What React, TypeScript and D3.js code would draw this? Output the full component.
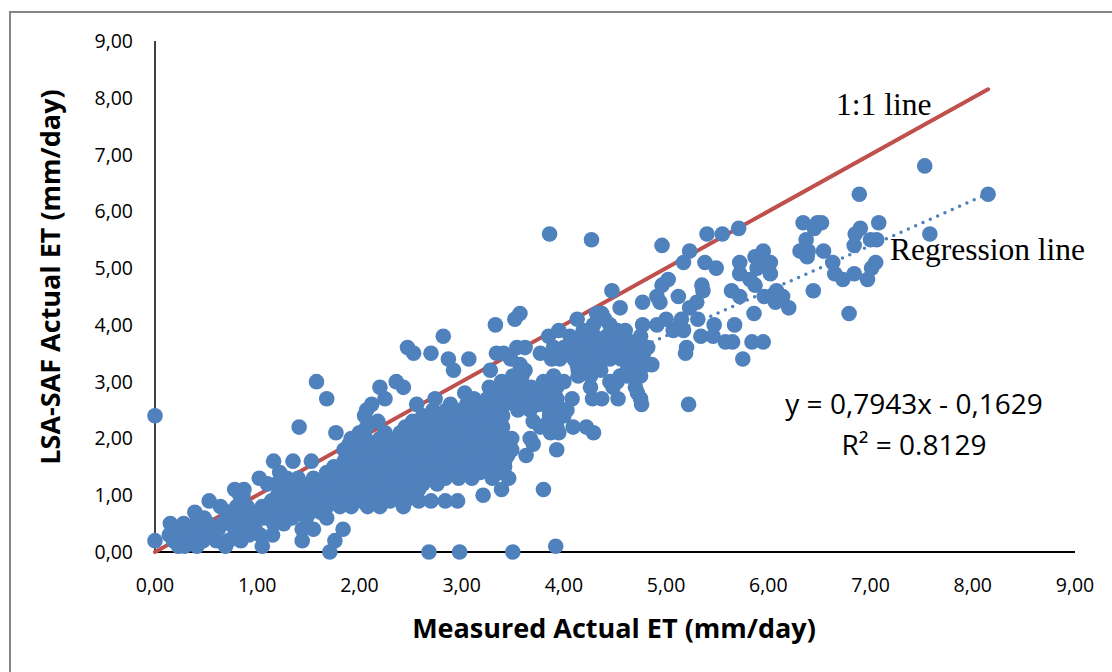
import React from "react";
import * as d3 from "d3";

const width = 1112;
const height = 672;

// LSA-SAF values are reported to 0.1 mm/day, so points are kept per level
const lsaLevels = [
  0, 0.1, 0.2, 0.3, 0.4, 0.5, 0.6, 0.7, 0.8, 0.9, 1.0, 1.1, 1.2, 1.3, 1.4, 1.5, 1.6, 1.7, 1.8, 1.9, 2.0,
  2.1, 2.2, 2.3, 2.4, 2.5, 2.6, 2.7, 2.8, 2.9, 3.0, 3.1, 3.2, 3.3, 3.4, 3.5, 3.6, 3.7, 3.8, 3.9, 4.0,
  4.1, 4.2, 4.3, 4.4, 4.5, 4.6, 4.7, 4.8, 4.9, 5.0, 5.1, 5.2, 5.3, 5.4, 5.5, 5.6, 5.7, 5.8, 6.3, 6.8,
];

const measuredAtLevel = [
  [1.71, 2.68, 2.98, 3.5],
  [0.23, 0.29, 0.41, 0.69, 1.05, 3.92],
  [0, 0.18, 0.27, 0.36, 0.47, 0.6, 0.72, 0.84, 1.44, 1.76],
  [0.14, 0.24, 0.34, 0.5, 0.58, 0.78, 0.92, 1.03, 1.15],
  [0.22, 0.31, 0.43, 0.62, 0.82, 0.98, 1.44, 1.55, 1.84],
  [0.15, 0.28, 0.4, 0.52, 0.66, 0.75, 0.88, 0.95, 1.16, 1.26],
  [0.48, 0.76, 0.93, 1.06, 1.2, 1.34, 1.48, 1.68],
  [0.39, 0.7, 0.72, 0.86, 1.0, 1.14, 1.27, 1.4, 1.52, 1.62],
  [0.64, 0.8, 0.9, 1.05, 1.17, 1.3, 1.42, 1.55, 1.68, 1.81, 1.92, 2.08, 2.2, 2.43],
  [0.53, 0.86, 1.14, 1.25, 1.38, 1.5, 1.62, 1.75, 1.9, 2.02, 2.15, 2.23, 2.3, 2.45, 2.58, 2.7, 2.84, 2.96],
  [0.83, 0.86, 1.2, 1.32, 1.45, 1.6, 1.72, 1.85, 2.0, 2.12, 2.25, 2.38, 2.53, 3.21],
  [0.78, 0.87, 1.25, 1.38, 1.52, 1.66, 1.8, 1.92, 2.05, 2.18, 2.32, 2.45, 2.58, 3.39, 3.8],
  [1.1, 1.19, 1.3, 1.43, 1.58, 1.73, 1.86, 1.98, 2.1, 2.24, 2.38, 2.5, 2.62, 2.76],
  [1.02, 1.29, 1.4, 1.55, 1.7, 1.82, 1.94, 2.06, 2.2, 2.33, 2.46, 2.58, 2.7, 2.84, 2.97, 3.1, 3.3, 3.46],
  [1.22, 1.68, 1.8, 1.93, 2.05, 2.18, 2.3, 2.42, 2.55, 2.68, 2.8, 2.93, 3.05, 3.18, 3.3, 3.38],
  [1.75, 1.88, 2.0, 2.12, 2.25, 2.37, 2.5, 2.62, 2.75, 2.88, 3.0, 3.12, 3.25, 3.38, 3.42],
  [1.16, 1.35, 1.53, 1.85, 1.97, 2.1, 2.22, 2.35, 2.48, 2.6, 2.72, 2.85, 2.98, 3.1, 3.23, 3.35, 3.42],
  [1.88, 2.0, 2.14, 2.27, 2.4, 2.53, 2.66, 2.78, 2.9, 3.03, 3.16, 3.28, 3.4, 3.45, 3.63],
  [1.85, 1.95, 2.08, 2.2, 2.34, 2.46, 2.58, 2.7, 2.83, 2.95, 3.08, 3.2, 3.32, 3.49, 3.93],
  [1.9, 2.02, 2.16, 2.3, 2.42, 2.55, 2.68, 2.8, 2.92, 3.05, 3.18, 3.3, 3.42, 3.7],
  [1.92, 2.06, 2.2, 2.36, 2.5, 2.62, 2.74, 2.88, 3.0, 3.12, 3.26, 3.38, 3.49, 3.67],
  [1.77, 2.0, 2.25, 2.4, 2.55, 2.68, 2.8, 2.94, 3.06, 3.2, 3.33, 3.87, 3.95, 4.29],
  [1.41, 2.07, 2.45, 2.6, 2.72, 2.86, 3.0, 3.14, 3.27, 3.4, 3.77, 3.93, 4.09, 4.22],
  [2.18, 2.52, 2.65, 2.78, 2.9, 3.03, 3.16, 3.3, 3.7, 3.85, 3.93],
  [0, 2.05, 2.62, 2.8, 2.95, 3.08, 3.2, 3.34, 3.4, 3.86, 4.0],
  [2.07, 2.72, 2.85, 3.0, 3.13, 3.27, 3.38, 3.55, 3.67, 3.86, 4.0, 4.03],
  [2.12, 2.56, 2.89, 3.05, 3.2, 3.32, 3.42, 3.62, 3.75, 3.93, 4.76, 5.22],
  [1.68, 2.25, 2.74, 3.12, 3.25, 3.37, 3.5, 3.6, 3.68, 3.85, 3.93, 4.08, 4.28, 4.37, 4.53, 4.75],
  [3.03, 3.3, 3.45, 3.57, 3.75, 3.85, 4.72],
  [2.2, 2.43, 3.27, 3.4, 3.55, 3.6, 3.68, 3.77, 3.93, 4.26, 4.48, 4.7],
  [1.58, 2.36, 3.39, 3.52, 3.8, 4.0, 4.45, 4.52],
  [3.5, 3.59, 3.9, 4.14, 4.26, 4.55, 4.62, 4.75],
  [2.92, 3.28, 3.62, 4.14, 4.26, 4.36, 4.62, 4.7],
  [3.57, 4.13, 4.33, 4.68, 4.75, 4.81, 4.86],
  [2.87, 3.07, 3.48, 3.88, 3.96, 4.1, 4.2, 4.32, 4.45, 4.56, 4.7, 5.75],
  [2.53, 2.7, 3.34, 3.41, 3.77, 3.88, 4.05, 4.13, 4.26, 4.39, 4.52, 4.65, 4.78, 5.19],
  [2.47, 3.54, 3.62, 3.9, 4.0, 4.12, 4.2, 4.3, 4.45, 4.58, 4.7, 4.82, 5.2],
  [4.19, 4.32, 4.45, 4.55, 4.65, 5.58, 5.65, 5.84, 5.95],
  [2.82, 3.85, 4.06, 4.2, 4.3, 4.42, 4.75, 5.34, 5.46],
  [3.95, 4.19, 4.52, 4.6, 5.07, 5.17],
  [3.33, 4.29, 4.45, 4.77, 4.91, 5.14, 5.47, 5.67],
  [3.52, 4.13, 4.4, 5.0, 5.15, 5.31],
  [3.57, 4.32, 4.37, 5.86, 6.79],
  [4.55, 5.23, 6.2],
  [4.77, 4.94, 5.3, 6.07],
  [4.91, 5.12, 5.72, 5.96, 6.14],
  [4.47, 5.36, 5.64, 6.08, 6.44],
  [4.96, 5.35, 5.87],
  [5.02, 5.82, 6.73, 6.97],
  [5.72, 6.02, 6.65, 6.84],
  [5.49, 5.89, 7.01],
  [5.17, 5.38, 5.72, 5.92, 6.02, 6.63, 7.05],
  [5.87, 6.38],
  [5.23, 5.95, 6.31, 6.39, 6.54],
  [4.96, 6.84],
  [4.27, 6.37, 7.0, 7.06],
  [3.86, 5.4, 5.55, 6.85, 7.58],
  [5.71, 6.45, 6.9],
  [6.34, 6.48, 6.52, 7.08],
  [6.89, 8.15],
  [7.53],
];

const oneToOneLine: [number, number][] = [[0, 0], [8.15, 8.15]];
const regressionLine: [number, number][] = [[0.21, 0], [8.15, 6.31]];

const xScale = d3.scaleLinear().domain([0, 9]).range([155, 1075]);
const yScale = d3.scaleLinear().domain([0, 9]).range([552, 41]);
const axisTicks = d3.range(0, 10);

const locale = d3.formatLocale({ decimal: ",", thousands: ".", grouping: [3], currency: ["", ""] });
const tickFormat = locale.format(".2f");

const lineGen = d3
  .line<[number, number]>()
  .x((d) => xScale(d[0]))
  .y((d) => yScale(d[1]));

const sansFont = "'Open Sans', 'Noto Sans', sans-serif";
const serifFont = "'Liberation Serif', serif";

export default function App() {
  const points = lsaLevels.flatMap((level, i) => measuredAtLevel[i].map((x) => ({ x, y: level })));

  return (
    <svg
      width={width}
      height={height}
      style={{ position: "absolute", left: 0, top: 0, background: "#fff" }}
    >
      <rect x={10} y={12} width={1200} height={800} fill="none" stroke="#868686" strokeWidth={2} />

      <line x1={xScale(0)} x2={xScale(0)} y1={yScale(9)} y2={yScale(0)} stroke="#000" strokeWidth={1.5} />
      <line x1={xScale(0)} x2={xScale(9)} y1={yScale(0)} y2={yScale(0)} stroke="#000" strokeWidth={2} />

      {axisTicks.map((t) => (
        <text key={`y${t}`} x={133} y={yScale(t) + 7} textAnchor="end" fontFamily={sansFont} fontSize={19.5} fill="#000">
          {tickFormat(t)}
        </text>
      ))}
      {axisTicks.map((t) => (
        <text key={`x${t}`} x={xScale(t)} y={592} textAnchor="middle" fontFamily={sansFont} fontSize={19.5} fill="#000">
          {tickFormat(t)}
        </text>
      ))}

      <path d={lineGen(regressionLine) ?? ""} fill="none" stroke="#4F81BD" strokeWidth={3.5} strokeLinecap="round" strokeDasharray="0 8" />
      <path d={lineGen(oneToOneLine) ?? ""} fill="none" stroke="#C0504D" strokeWidth={4} strokeLinecap="round" />

      {points.map((d, i) => (
        <circle key={i} cx={xScale(d.x)} cy={yScale(d.y)} r={7.8} fill="#4F81BD" />
      ))}

      <text x={614} y={638} textAnchor="middle" fontFamily={sansFont} fontWeight={700} fontSize={27} fill="#000">
        Measured Actual ET (mm/day)
      </text>
      <text
        transform={`translate(60,277) rotate(-90)`}
        textAnchor="middle"
        fontFamily={sansFont}
        fontWeight={700}
        fontSize={27}
        fill="#000"
      >
        LSA-SAF Actual ET (mm/day)
      </text>

      <text x={836} y={115} fontFamily={serifFont} fontSize={31.5} fill="#000">1:1 line</text>
      <text x={890} y={260} fontFamily={serifFont} fontSize={31.5} fill="#000">Regression line</text>

      <text x={914} y={414} textAnchor="middle" fontFamily={sansFont} fontSize={28} fill="#000">
        y = 0,7943x - 0,1629
      </text>
      <text x={914} y={455} textAnchor="middle" fontFamily={sansFont} fontSize={28} fill="#000">
        R² = 0.8129
      </text>
    </svg>
  );
}
